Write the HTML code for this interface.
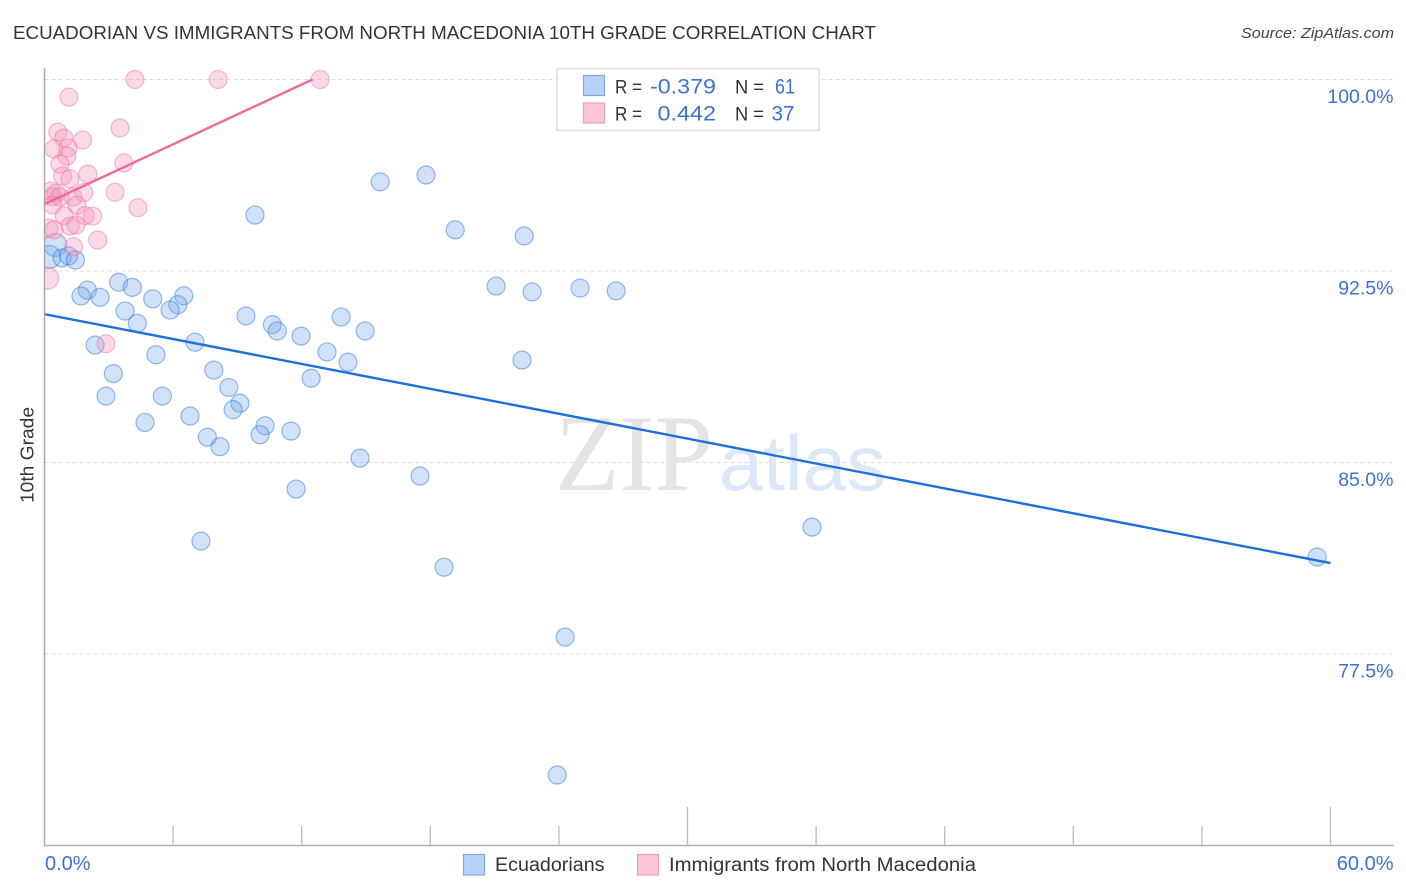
<!DOCTYPE html>
<html lang="en">
<head>
<meta charset="utf-8">
<title>Ecuadorian vs Immigrants from North Macedonia 10th Grade Correlation Chart</title>
<style>
html,body{margin:0;padding:0;background:#fff;}
svg{display:block;font-family:"Liberation Sans",sans-serif;}
</style>
</head>
<body>
<svg id="chart" xmlns="http://www.w3.org/2000/svg" width="1406" height="892" viewBox="0 0 1406 892">
  <defs>
    <clipPath id="plot-clip"><rect x="44.5" y="60" width="1350" height="786"></rect></clipPath>
  </defs>
  <rect x="0" y="0" width="1406" height="892" fill="#fff"></rect>
  <text x="13" y="39" font-size="18.5" fill="#333" textLength="863" lengthAdjust="spacingAndGlyphs">ECUADORIAN VS IMMIGRANTS FROM NORTH MACEDONIA 10TH GRADE CORRELATION CHART</text>
  <text x="1394" y="38" font-size="15" font-style="italic" fill="#444" text-anchor="end" textLength="153" lengthAdjust="spacingAndGlyphs">Source: ZipAtlas.com</text>

  <g id="grid"></g>

  <g>
    <text x="555" y="490" font-family="'Liberation Serif',serif" font-size="109" fill="#e4e4e4" textLength="158" lengthAdjust="spacingAndGlyphs">ZIP</text>
    <text x="719" y="490" font-family="'Liberation Sans',sans-serif" font-size="78" fill="#dce7f8" textLength="167" lengthAdjust="spacingAndGlyphs">atlas</text>
  </g>

  <g clip-path="url(#plot-clip)">
    <g id="blue-points"></g>
    <g id="pink-points"></g>
    <g id="trends"></g>
  </g>

  <line x1="44.5" y1="68" x2="44.5" y2="846" stroke="#aaa" stroke-width="1.5"></line>
  <line x1="44" y1="845.5" x2="1393.5" y2="845.5" stroke="#b0b0b0" stroke-width="1.5"></line>
  <g id="x-ticks"></g>
  <g id="y-labels"></g>
  <g id="x-labels"></g>

  <text transform="translate(33.5,503) rotate(-90)" x="0" y="0" font-size="18" fill="#333" textLength="96" lengthAdjust="spacingAndGlyphs">10th Grade</text>

  <g>
    <rect x="557" y="68.5" width="262" height="62" fill="#fff" stroke="#ddd" stroke-width="1.5"></rect>
    <rect x="583.5" y="75.5" width="21" height="20" fill="#b8d3f7" stroke="#7fa9e6" stroke-width="1.2"></rect>
    <rect x="583.5" y="103" width="21" height="20" fill="#fcc6d8" stroke="#ec9fb9" stroke-width="1.2"></rect>
    <text x="615" y="93.3" font-size="19" fill="#333" textLength="27" lengthAdjust="spacingAndGlyphs">R =</text>
    <text x="650" y="93.3" font-size="21" fill="#3c72d3" textLength="66" lengthAdjust="spacingAndGlyphs">-0.379</text>
    <text x="735" y="93.3" font-size="19" fill="#333" textLength="29" lengthAdjust="spacingAndGlyphs">N =</text>
    <text x="775" y="93.3" font-size="21" fill="#3c72d3" textLength="20" lengthAdjust="spacingAndGlyphs">61</text>
    <text x="615" y="120.7" font-size="19" fill="#333" textLength="27" lengthAdjust="spacingAndGlyphs">R =</text>
    <text x="657.5" y="120.7" font-size="21" fill="#3c72d3" textLength="58.5" lengthAdjust="spacingAndGlyphs">0.442</text>
    <text x="735" y="120.7" font-size="19" fill="#333" textLength="29" lengthAdjust="spacingAndGlyphs">N =</text>
    <text x="771.5" y="120.7" font-size="21" fill="#3c72d3" textLength="23" lengthAdjust="spacingAndGlyphs">37</text>
  </g>

  <g>
    <rect x="463.5" y="854.5" width="21" height="20.5" fill="#b8d3f7" stroke="#7fa9e6" stroke-width="1.2"></rect>
    <text x="495" y="871" font-size="19" fill="#333" textLength="109.5" lengthAdjust="spacingAndGlyphs">Ecuadorians</text>
    <rect x="637.5" y="854.5" width="21" height="20.5" fill="#fcc6d8" stroke="#ec9fb9" stroke-width="1.2"></rect>
    <text x="669" y="871" font-size="19" fill="#333" textLength="307" lengthAdjust="spacingAndGlyphs">Immigrants from North Macedonia</text>
  </g>
</svg>
<script>
var yTickValues = [100, 92.5, 85, 77.5];
var xTickValues = [6, 12, 18, 24, 30, 36, 42, 48, 54, 60];
var xMajorTickValues = [30, 60];
var xLabelValues = [0, 60];

var blueX = [9.82,15.66,17.80,19.16,22.38,0.50,0.22,0.82,1.13,1.44,2.00,1.70,2.59,3.46,4.10,5.05,6.50,6.22,5.86,3.76,4.33,2.36,5.20,7.02,3.21,2.87,5.50,4.69,6.79,7.90,8.60,9.12,8.80,7.60,8.19,10.29,10.06,11.50,9.40,10.63,10.86,11.97,13.18,13.84,14.96,14.16,12.44,14.72,17.52,11.74,7.30,18.64,24.29,23.92,35.81,59.38,21.07,22.75,24.99,26.67,22.28];
var blueY = [94.69,95.99,96.26,94.11,93.87,93.52,93.05,93.01,93.09,92.93,91.75,91.52,91.47,92.06,91.86,91.41,91.53,91.18,90.97,90.93,90.45,89.60,89.22,89.71,88.48,87.60,87.60,86.57,86.82,88.62,87.94,87.32,87.07,85.99,85.62,86.44,86.09,86.23,90.74,90.40,90.15,89.95,89.33,90.70,90.15,88.93,88.30,85.17,84.47,83.96,81.92,80.90,78.16,72.76,82.47,81.30,91.91,91.68,91.83,91.72,89.01];

var pinkX = [4.22,8.10,12.86,1.14,3.52,0.62,0.90,1.78,0.44,1.10,1.04,0.72,3.70,2.02,0.85,1.19,3.29,0.30,0.54,1.83,0.38,1.33,0.72,1.52,0.38,4.36,0.92,1.90,2.25,1.20,1.47,0.21,0.44,2.48,1.36,2.87,0.15];
var pinkY = [100,100,100,99.31,98.10,97.94,97.71,97.63,97.28,97.32,97.00,96.69,96.73,96.30,96.22,96.11,95.59,95.63,95.55,95.57,95.41,95.40,95.40,95.08,95.08,94.98,94.67,94.67,94.65,94.26,94.30,94.18,94.11,93.71,93.45,89.65,92.22];

var blueTrendX = [0, 60];
var blueTrendY = [90.81, 81.06];
var pinkTrendX = [0, 12.5];
var pinkTrendY = [95.12, 100];

var SVG_NS = 'http://www.w3.org/2000/svg';
function xScale(v) { return 44.5 + v * (1286 / 60); }
function yScale(v) { return 79.5 + (100 - v) * (574.5 / 22.5); }
function pct(v) { return v.toFixed(1) + '%'; }
function node(parentId, tag) {
  var el = document.createElementNS(SVG_NS, tag);
  document.getElementById(parentId).appendChild(el);
  return el;
}

yTickValues.forEach(function (v) {
  var line = node('grid', 'line');
  
  
  line.setAttribute('x1', 44.5);
  line.setAttribute('x2', 1393.5);
  line.setAttribute('y1', yScale(v));
  line.setAttribute('y2', yScale(v));
  line.setAttribute('stroke', '#ddd');
  line.setAttribute('stroke-width', 1);
  line.setAttribute('stroke-dasharray', '4 3');

  var label = node('y-labels', 'text');
  
  
  label.setAttribute('x', 1393.5);
  label.setAttribute('y', yScale(v) + 23.5);
  label.setAttribute('text-anchor', 'end');
  label.setAttribute('font-size', 19.5);
  label.setAttribute('fill', '#3c72d3');
  label.textContent = pct(v);
});

xTickValues.forEach(function (v) {
  var tick = node('x-ticks', 'line');
  
  
  tick.setAttribute('x1', xScale(v));
  tick.setAttribute('x2', xScale(v));
  tick.setAttribute('y1', xMajorTickValues.indexOf(v) >= 0 ? 807 : 826);
  tick.setAttribute('y2', 845.5);
  tick.setAttribute('stroke', '#bbb');
  tick.setAttribute('stroke-width', 1.3);
});

xLabelValues.forEach(function (v, i) {
  var label = node('x-labels', 'text');
  
  
  label.setAttribute('x', i === 0 ? 45 : 1393.5);
  label.setAttribute('y', 870);
  label.setAttribute('text-anchor', i === 0 ? 'start' : 'end');
  label.setAttribute('font-size', 20);
  label.setAttribute('fill', '#3c72d3');
  label.textContent = pct(v);
});

blueX.forEach(function (v, i) {
  var c = node('blue-points', 'circle');
  
  
  c.setAttribute('cx', xScale(v));
  c.setAttribute('cy', yScale(blueY[i]));
  c.setAttribute('r', v < 0.6 ? 11.5 : 9);
  c.setAttribute('fill', 'rgba(120,170,235,0.34)');
  c.setAttribute('stroke', 'rgba(50,120,220,0.5)');
  c.setAttribute('stroke-width', 1.2);
});

pinkX.forEach(function (v, i) {
  var c = node('pink-points', 'circle');
  
  
  c.setAttribute('cx', xScale(v));
  c.setAttribute('cy', yScale(pinkY[i]));
  c.setAttribute('r', v < 0.2 ? 11 : 9);
  c.setAttribute('fill', 'rgba(245,150,185,0.36)');
  c.setAttribute('stroke', 'rgba(232,110,155,0.45)');
  c.setAttribute('stroke-width', 1.2);
});

var blueLine = node('trends', 'line');


blueLine.setAttribute('x1', xScale(blueTrendX[0]));
blueLine.setAttribute('y1', yScale(blueTrendY[0]));
blueLine.setAttribute('x2', xScale(blueTrendX[1]));
blueLine.setAttribute('y2', yScale(blueTrendY[1]));
blueLine.setAttribute('stroke', '#1f6fdc');
blueLine.setAttribute('stroke-width', 2.4);

var pinkLine = node('trends', 'line');


pinkLine.setAttribute('x1', xScale(pinkTrendX[0]));
pinkLine.setAttribute('y1', yScale(pinkTrendY[0]));
pinkLine.setAttribute('x2', xScale(pinkTrendX[1]));
pinkLine.setAttribute('y2', yScale(pinkTrendY[1]));
pinkLine.setAttribute('stroke', '#ee6a99');
pinkLine.setAttribute('stroke-width', 2.4);
</script>
</body>
</html>
